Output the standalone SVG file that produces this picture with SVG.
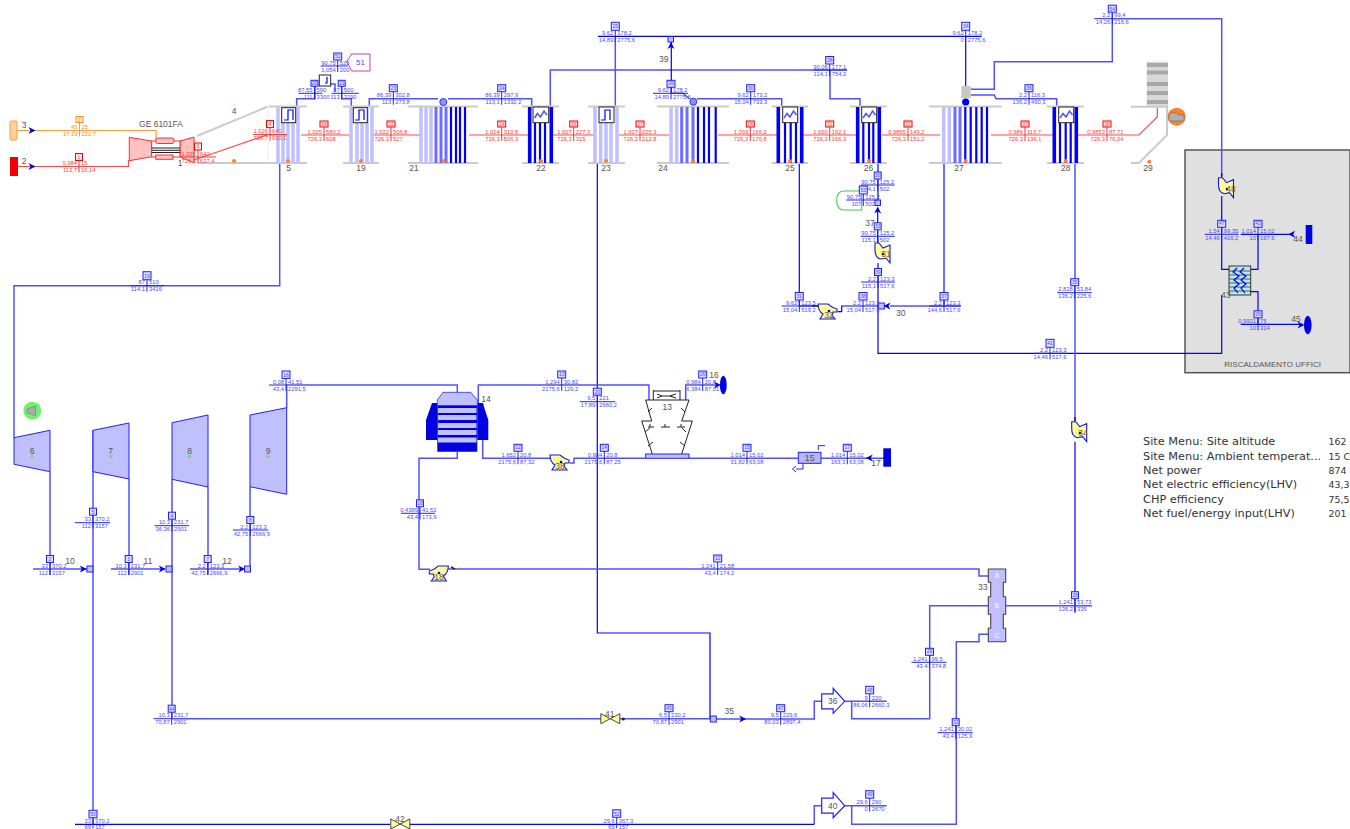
<svg xmlns="http://www.w3.org/2000/svg" width="1350" height="829" viewBox="0 0 1350 829">
<style>
text{font-family:"Liberation Sans",Arial,sans-serif}
.lb{font-size:8.5px;fill:#555;text-anchor:middle}
.p{fill:none;stroke:#5050ff;stroke-width:1.5}
.b{fill:none;stroke:#0000ff;stroke-width:1.2}
.rd{fill:none;stroke:#ff4848;stroke-width:1.2}
.o{fill:none;stroke:#ff9c3c;stroke-width:1.2}
.g{fill:none;stroke:#cbcbcb;stroke-width:2}
.s1{fill:none;stroke:#c0c0ff;stroke-width:3.5}
.s2{fill:none;stroke:#6c6cff;stroke-width:3}
.s3{fill:none;stroke:#0000ff;stroke-width:2.2}
.s4{fill:none;stroke:#0000ff;stroke-width:3.6}
.hb{fill:#fff;stroke:#222;stroke-width:1}
.dot{fill:#ff8030}
.gd{fill:#60e060}
.tb{fill:#c0c0ff;stroke:#2020ff;stroke-width:1}
.pm{fill:#ffff90;stroke:#1010ff;stroke-width:1.1}
.vl{fill:#ffff90;stroke:#333;stroke-width:.9}
.ar{fill:#0000e0}
.bk{fill:none;stroke:#222;stroke-width:1}
.t rect{fill:#dcdcff;stroke:#2020ff;stroke-width:1}
.t path{fill:none;stroke:#2020ff;stroke-width:1}
.t text{font-size:5.8px;fill:#4a4aff}
.r rect{fill:#ffe8e8;stroke:#f00000}
.r path{stroke:#ff3030}
.r text{fill:#ff4040}
.y rect{fill:#fff0e0;stroke:#ff9020}
.y path{stroke:#ff9c3c}
.y text{fill:#ff8c20}
.t .n{text-anchor:middle;font-size:5px}
.t .l{text-anchor:end}
.pn text{font-family:"DejaVu Sans",Verdana,sans-serif;font-size:11.3px;fill:#333}
.pn .val{font-size:9.4px}
</style>
<defs>
<path id="arr" d="M-3.5 -3.5L3.5 0L-3.5 3.5L-1.5 0z" class="ar"/>
<path id="pumpH" class="pm" d="M0 1H10L14 4L19 6V9H15L14 12L17 16H2L5 11Q0 8 0 1z"/>
<path id="pumpV" class="pm" d="M0 0H4L8 5L15 2V20L11 15L6 16Q0 15 0 7z"/>
<path id="exp" fill="#fff" stroke="#2020ff" stroke-width="1.2" d="M0 -7.5H11.5V-13L23 0L11.5 12V7.5H0z"/>
<path id="bow" class="vl" d="M-9.5 -5L9.5 5V-5L-9.5 5z"/>
</defs>

<rect id="room" x="1185" y="150" width="165" height="222.7" fill="#e0e0e0" stroke="#555" stroke-width="1.5"/>
<text x="1272.7" y="367" class="lb" style="font-size:8px">RISCALDAMENTO UFFICI</text>

<g id="connectors">
<path class="o" d="M17 130.5H156V139"/>
<path class="rd" d="M18 166.5H128.5V160"/>
<path class="rd" d="M194 160L268 134.6H287"/>
<path class="rd" d="M301 135H349M373 135H420M469 135H528M553 135H594M619 135H669M718 135H778M802 135H857M882 135H940M991 135H1053M1078 135H1139L1157.3 117V107"/>
<path class="p" d="M296.7 106V98.7H315V86M351.3 106V98.7H341.7V86M330 84H335V92"/>
<path class="p" d="M369.3 106V98.7H438M448 98.7H531.7V106.7"/>
<path class="p" d="M550.3 106V70H847"/>
<path class="p" d="M830 70V98.7H860V106"/>
<path class="p" d="M615.3 106V36"/>
<path class="b" d="M598 36.3H981.7"/>
<path class="b" d="M965.7 36V86M671.3 39V93.3"/>
<path class="p" d="M671.3 93.3H683L689.5 99M697 98.7H781.7V106.7"/>
<path class="p" d="M970.7 89.3H994.3V61.7H1112.3V13M1112.3 18.7H1221.7V176"/>
<path class="p" d="M970.7 95H994.3L996 98.7H1056.7V106.7"/>
<path class="b" d="M878 163V203M877.7 210V243"/>
<path d="M861.7 191H844Q836.7 191 836.7 200.5Q836.7 210 844 210H861.7V191" fill="none" stroke="#40d040" stroke-width="1.1"/>
<path class="b" d="M878 263V353.3H1221.7V295"/>
<path class="b" d="M799.3 163V306H818M838 311.7H841.7V306H881"/>
<path class="p" d="M890 306H960.7"/>
<path d="M944 163V306" fill="none" stroke="#6c6cff" stroke-width="2"/>
<path class="p" d="M1075 163V292M1075 292V421.7"/>
<path class="b" d="M1075 441.7V612.7"/>
<path class="p" d="M279.7 163V285.7H14V437.7"/>
<path class="p" d="M50 471.7V575M129 479V575M208 487V575"/>
<path class="p" d="M33 569H87M111 569H165M190 569H243"/>
<path class="p" d="M93 430V824.3M172 479V718.7M250 487V569"/>
<path class="p" d="M286.7 408V385H457.3V392"/>
<path class="b" d="M597.3 163V633H710V719"/>
<path class="p" d="M478.3 403V385H649V400"/>
<path class="p" d="M457.3 452V458.3H419V569.3H430M448 569H979V576H988.3"/>
<path class="p" d="M482.7 403V458.3H550M570 463H574V458.3H645.7"/>
<path class="p" d="M685.7 400V385H716.7"/>
<path class="p" d="M689 458.3H798.3M821 458.3H885"/>
<path class="p" d="M172 718.7H600.7M620 718.7H710"/>
<path class="p" d="M710 719H814.3V701.3H821.7"/>
<path class="p" d="M844 701.3H886.7M851.7 701.3V718.7H929.7V605.7H988.3M1005.7 605.7H1092"/>
<path class="p" d="M814.3 824.3V805.7H821.7M844 805.7H886.7M851.7 805.7V824.3H956.3V641.7H979V634.3H988.3"/>
<path class="b" d="M75 824.3H390M410 824.3H814.3"/>
<path class="b" d="M1221.7 196V269.3H1229"/>
<path class="b" d="M1258 234.3V269.3H1250.7M1250.7 291.7H1258V324"/>
<path class="b" d="M1240.7 234.3H1293M1240.7 324.3H1303"/>
<path d="M825 445.7H818.3V450M803 463.3V469H796" fill="none" stroke="#2020ff" stroke-width="1"/>
</g>

<g id="n3"><rect x="10" y="121" width="7" height="19" rx="1" fill="#ffd0a0" stroke="#ff9c3c"/><text class="lb" x="24" y="128">3</text><use href="#arr" transform="translate(32,130.5)" style="fill:#ff8020"/></g>
<g id="n2"><rect x="10" y="157" width="8" height="19" fill="#f00000"/><text class="lb" x="24" y="164">2</text><use href="#arr" transform="translate(32,166.5)"/></g>
<g id="n1">
<path d="M129.3 137.3L151.7 141V156.7L129.3 160.7z" fill="#ffc0c0" stroke="#ff3030"/>
<path d="M180 141L194 137V162.7L180 157z" fill="#ffc0c0" stroke="#ff3030"/>
<rect x="151.7" y="141" width="28.3" height="16" fill="#fff" stroke="#ff3030"/>
<path d="M151.7 148H180M151.7 150.3H180M151.7 152.5H180" stroke="#222" fill="none"/>
<rect x="155.7" y="138" width="18.3" height="5.5" rx="2" fill="#ffc0c0" stroke="#ff3030"/>
<rect x="155.7" y="155" width="17.3" height="4.3" fill="#ffc0c0" stroke="#ff3030"/>
<text class="lb" x="161" y="127">GE 6101FA</text>
<text class="lb" x="180" y="166">1</text>
</g>
<g id="n4">
<path class="g" d="M197 136L268 106.5M197 163H269"/>
<path d="M268 106.5V163" stroke="#eee" fill="none"/>
<circle class="dot" cx="234" cy="161" r="2"/><text class="lb" x="234" y="114">4</text>
</g>
<g id="n5"><path class="g" d="M269 106.5H307M269 163H307"/><path class="s1" d="M278 107V163M283 107V163M288 107V163M293 107V163M298 107V163"/><rect class="hb" x="281.7" y="107.7" width="14" height="15"/><path class="b" d="M284 120H288V110H293V120"/><circle class="dot" cx="288" cy="161" r="2"/><text class="lb" x="288.5" y="170.5">5</text></g>
<g id="n19"><path class="g" d="M343 106.5H379M343 163H379"/><path class="s1" d="M351 107V163M357 107V163M362 107V163M367 107V163M372 107V163"/><rect class="hb" x="353.3" y="107.7" width="14" height="15"/><path class="b" d="M355 120H359V110H364V120"/><circle class="dot" cx="361" cy="161" r="2"/><text class="lb" x="361" y="170.5">19</text></g>
<g id="n21"><path class="g" d="M408 106.5H478M408 163H478"/><path class="s1" d="M421 107V163M426 107V163M431 107V163"/><path class="s2" d="M436 107V163M441 107V163M446 107V163"/><path class="s3" d="M451 107V163M456 107V163M460 107V163M465 107V163"/><circle cx="443.3" cy="102" r="3.5" fill="#9090ff" stroke="#3030ff"/><circle class="dot" cx="444" cy="161" r="2"/><text class="lb" x="414" y="170.5">21</text></g>
<g id="n22"><path class="g" d="M522 106.5H559M522 163H559"/><path class="s4" d="M529.7 107V163M551.3 107V163"/><path class="s3" d="M535 107V163M540 107V163M545 107V163"/><rect class="hb" x="533" y="107" width="15.7" height="15.7"/><path class="p" d="M534.5 118L537.5 113.5L540.5 117L544 111L547 115"/><circle class="dot" cx="541" cy="161" r="2"/><text class="lb" x="541" y="170.5">22</text></g>
<g id="n23"><path class="g" d="M588 106.5H625M588 163H625"/><path class="s1" d="M595 107V163M600.7 107V163M606 107V163M611 107V163M617 107V163"/><rect class="hb" x="599" y="107" width="15" height="15.7"/><path class="b" d="M601 120H605V110H610V120"/><circle class="dot" cx="606" cy="161" r="2"/><text class="lb" x="606" y="170.5">23</text></g>
<g id="n24"><path class="g" d="M657 106.5H729M657 163H729"/><path class="s1" d="M671 107V163M676.7 107V163"/><path class="s2" d="M681.7 107V163M687 107V163M693 107V163"/><path class="s3" d="M698 107V163M704 107V163M709 107V163M715.7 107V163"/><circle cx="693.3" cy="101.7" r="3.5" fill="#9090ff" stroke="#3030ff"/><circle class="dot" cx="693" cy="161" r="2"/><text class="lb" x="663" y="170.5">24</text></g>
<g id="n25"><path class="g" d="M771.7 106.5H808M771.7 163H808"/><path class="s4" d="M778.3 107V163M801.7 107V163"/><path class="s3" d="M785 107V163M790.7 107V163M796 107V163"/><rect class="hb" x="782.7" y="107" width="15" height="15.7"/><path class="p" d="M784 118L787 113.5L790 117L793.5 111L796.5 115"/><circle class="dot" cx="790" cy="161" r="2"/><text class="lb" x="790" y="170.5">25</text></g>
<g id="n26"><path class="g" d="M850 106.5H886.7M850 163H886.7"/><path class="s4" d="M857.7 107V163M879.3 107V163"/><path class="s3" d="M863.3 107V163M869 107V163M873.3 107V163"/><rect class="hb" x="861.7" y="107" width="15" height="15.7"/><path class="p" d="M863 118L866 113.5L869 117L872.5 111L875.5 115"/><circle class="dot" cx="869" cy="161" r="2"/><text class="lb" x="868.5" y="170.5">26</text></g>
<g id="n27"><path class="g" d="M929 106.5H1001.7M929 163H1001.7"/><path class="s1" d="M943.7 107V163M949.3 107V163"/><path class="s2" d="M955 107V163M960 107V163"/><path class="s3" d="M965.3 107V163M970.7 107V163M976.3 107V163M981.7 107V163M987 107V163"/><rect x="961.3" y="86" width="9.4" height="12.3" fill="#c8c8c8"/><circle cx="965.7" cy="102" r="3.6" fill="#0000e0"/><circle class="dot" cx="965.7" cy="161" r="2"/><text class="lb" x="959" y="170.5">27</text></g>
<g id="n28"><path class="g" d="M1047 106.5H1084M1047 163H1084"/><path class="s4" d="M1054.3 107V163M1076.3 107V163"/><path class="s3" d="M1060 107V163M1065.7 107V163M1070.7 107V163"/><rect class="hb" x="1058.7" y="107" width="15" height="15.7"/><path class="p" d="M1060 118L1063 113.5L1066 117L1069.5 111L1072.5 115"/><circle class="dot" cx="1065.7" cy="161" r="2"/><text class="lb" x="1065.7" y="170.5">28</text></g>
<g id="n29"><rect x="1146.7" y="61.7" width="21.3" height="45" fill="#d8d8d8"/><path d="M1147 65H1168M1147 72.5H1168M1147 84H1168M1147 93H1168M1147 102H1168" stroke="#a8a8a8" stroke-width="4" fill="none"/><path class="g" d="M1131 106.7H1168M1131 163H1139L1167 135V106"/><circle cx="1176.7" cy="116.7" r="9" fill="#ff8030"/><path d="M1169 113H1176L1179 115H1184V121H1169z" fill="#b0b0b0" stroke="#666" stroke-width=".6"/><circle class="dot" cx="1149.3" cy="161.7" r="2"/><text class="lb" x="1148" y="170.5">29</text></g>

<g id="n6"><path class="tb" d="M14 437.7L50 430.3V471.7L14 464.3z"/><text class="lb" x="32" y="454">6</text><circle class="gd" cx="32" cy="456.5" r="1.5"/><circle cx="32.3" cy="410.7" r="9" fill="#70f070"/><path d="M27 409L35.5 406V415.5L27 413z" fill="#aaa" stroke="#777" stroke-width=".6"/></g>
<g id="n7"><path class="tb" d="M93 430.3L129 423V479L93 471.7z"/><text class="lb" x="110.5" y="454">7</text><circle class="gd" cx="111" cy="456.5" r="1.5"/></g>
<g id="n8"><path class="tb" d="M172 422.7L208 415V487L172 479.3z"/><text class="lb" x="189.5" y="454">8</text><circle class="gd" cx="189.5" cy="456.5" r="1.5"/></g>
<g id="n9"><path class="tb" d="M250 415L286.7 407.7V494.3L250 486.7z"/><text class="lb" x="268" y="454">9</text><circle class="gd" cx="268" cy="456.5" r="1.5"/></g>
<g id="n10"><use href="#arr" transform="translate(83.3,569)"/><rect x="87" y="566" width="6" height="6" class="tb"/><text class="lb" x="70" y="564">10</text></g>
<g id="n11"><use href="#arr" transform="translate(162.3,569)"/><rect x="166" y="566" width="6" height="6" class="tb"/><text class="lb" x="148" y="564" style="fill:#a04020">11</text></g>
<g id="n12"><use href="#arr" transform="translate(241.7,569)"/><rect x="244.5" y="566" width="6" height="6" class="tb"/><text class="lb" x="227" y="564">12</text></g>

<g id="n14">
<path d="M437.3 403H432L426 420V440H437.3zM477.3 403H482.7L488.3 420V440H477.3z" fill="#0000e0"/>
<path d="M443 392.3H470.7L477.3 400V451.7H437.3V400z" fill="#0000e0"/>
<path d="M443 392.3H470.7L477.3 400V405.5H437.3V400z" fill="#c0c0ff" stroke="#2020ff" stroke-width=".6"/>
<path d="M438 410.5H476.5M438 417.5H476.5M438 425.5H476.5M438 432.5H476.5M438 440H476.5" stroke="#c0c0ff" stroke-width="5" fill="none"/>
<text class="lb" x="486" y="402">14</text>
</g>
<g id="n13">
<path class="bk" d="M645.7 400H689L681.7 421H692.3L681.7 454M645.7 400L651.7 421H641.7L652.3 454"/>
<path class="bk" d="M653.3 390V400M680 390V400M653.3 391H680M657 394L662 396L670 396L676 394M657 398L662 396M676 398L670 396M648 412L652 408M685 412L681 408M645 432L650 428M686 432L682 428M648 446L653 442M685 446L680 442"/>
<path class="bk" d="M648 427H654M650 424V427M661 427H670M665 424V427M677 427H685M681 424V427" stroke="#2020ff"/>
<rect x="645.7" y="454" width="43.3" height="4.3" fill="#c0c0ff" stroke="#2020ff"/>
<text class="lb" x="667.3" y="409.5">13</text>
</g>
<g id="n15"><rect x="798.3" y="452.3" width="22.7" height="11" fill="#b8b8f0" stroke="#2020ff"/><text class="lb" x="809.7" y="461" style="font-size:9px">15</text><path d="M796 466L792.5 469L796 472" fill="none" stroke="#2020ff"/></g>
<g id="n16"><ellipse cx="723.3" cy="385" rx="3.4" ry="9.2" fill="#0000e0"/><use href="#arr" transform="translate(717.5,385)"/><text class="lb" x="714" y="377.5" style="fill:#7a5030">16</text></g>
<g id="n17"><rect x="883.3" y="448.3" width="7.7" height="18.4" fill="#0000e0"/><use href="#arr" transform="translate(869.3,458) rotate(180)"/><text class="lb" x="876" y="466">17</text></g>
<g id="n18"><use href="#pumpH" transform="translate(448.3,565) scale(-1,1)"/><circle cx="439" cy="573" r="1.3" fill="#0000e0"/><path d="M451 567L455 569" stroke="#222" stroke-width="1.5"/><text class="lb" x="439" y="580">18</text></g>
<g id="n38"><use href="#pumpH" transform="translate(550,454)"/><circle cx="561" cy="462" r="1.3" fill="#0000e0"/><text class="lb" x="560" y="469">38</text></g>
<g id="n32"><use href="#pumpH" transform="translate(818,303)"/><circle cx="829" cy="311" r="1.3" fill="#0000e0"/><path d="M812 306H818" stroke="#222" stroke-width="1.5"/><text class="lb" x="829" y="318">32</text></g>
<g id="n31"><use href="#pumpV" transform="translate(875,243)"/><circle cx="883" cy="254" r="1.3" fill="#0000e0"/><path d="M877.7 238V242" stroke="#222" stroke-width="1.5"/><text class="lb" x="886" y="257" style="fill:#806020">31</text></g>
<g id="n34"><use href="#pumpV" transform="translate(1071.7,421.7)"/><circle cx="1080" cy="433" r="1.3" fill="#0000e0"/><path d="M1075 417V421" stroke="#222" stroke-width="1.5"/><text class="lb" x="1083" y="436" style="fill:#806020">34</text></g>
<g id="n48"><use href="#pumpV" transform="translate(1218.5,177.7)"/><circle cx="1227" cy="189" r="1.3" fill="#0000e0"/><path d="M1221.7 173V177" stroke="#222" stroke-width="1.5"/><text class="lb" x="1231" y="192" style="fill:#806020">48</text></g>
<g id="n37"><rect x="875" y="200" width="5.5" height="5.5" class="tb"/><use href="#arr" transform="translate(877.7,210) rotate(-90)"/><text class="lb" x="870" y="225.5">37</text></g>
<g id="n30"><rect x="878.3" y="303" width="6" height="6" class="tb"/><use href="#arr" transform="translate(887,306) rotate(180)"/><text class="lb" x="900.7" y="316">30</text></g>
<g id="n39"><rect x="668" y="36.5" width="5.5" height="5.5" class="tb"/><use href="#arr" transform="translate(671,45.5) rotate(-90)"/><text class="lb" x="663.7" y="61.5">39</text></g>
<g id="n51"><path d="M346.7 61.7L351.7 54H370V71H351.7z" fill="#fff" stroke="#c040c0"/><text x="356" y="65" style="font-size:8px;fill:#4a4aff">51</text></g>
<g id="n50"><rect class="hb" x="319.3" y="75" width="11.4" height="11"/><path class="b" d="M325 83H327V77"/></g>
<g id="n33">
<path d="M988.3 569H1005.7V582.3H1003.3V596.7H1005.7V614.3H1003.3V628.3H1005.7V641.7H988.3V628.3H990.7V614.3H988.3V596.7H990.7V582.3H988.3z" fill="#c0c0ff" stroke="#444" stroke-width="1.1"/>
<text x="997" y="578" style="font-size:6.5px;fill:#fff;text-anchor:middle">A</text>
<text x="997" y="608" style="font-size:6.5px;fill:#fff;text-anchor:middle">B</text>
<text x="997" y="637.5" style="font-size:6.5px;fill:#fff;text-anchor:middle">C</text>
<text class="lb" x="982.7" y="590">33</text>
</g>
<g id="n35"><rect x="710.3" y="716" width="6" height="6" class="tb"/><use href="#arr" transform="translate(742.7,719)"/><text class="lb" x="729.3" y="714">35</text></g>
<g id="n36"><use href="#exp" transform="translate(821.7,701.3)"/><text class="lb" x="832.7" y="704">36</text></g>
<g id="n40"><use href="#exp" transform="translate(821.7,805.7)"/><text class="lb" x="832.7" y="809">40</text></g>
<g id="n41"><use href="#bow" transform="translate(610.3,718.7)"/><circle cx="623.3" cy="719" r="1.5" fill="#222"/><text class="lb" x="609.7" y="717">41</text></g>
<g id="n42"><use href="#bow" transform="translate(400.3,824)"/><text class="lb" x="400" y="822">42</text></g>
<g id="n43">
<rect x="1229" y="266" width="21.7" height="29" fill="#b8e8e8" stroke="#333" stroke-width="1"/>
<path d="M1229 271H1250.7M1229 275H1250.7M1229 279H1250.7M1229 283H1250.7M1229 287H1250.7M1229 291H1250.7" stroke="#222" stroke-width=".7" fill="none"/>
<path class="b" d="M1237 268L1233 272L1239 276L1234 280L1239 284L1234 288L1238 293M1244 268L1240 272L1246 276L1241 280L1246 284L1241 288L1245 293"/>
<text class="lb" x="1225.7" y="298">43</text>
</g>
<g id="n44"><rect x="1305.7" y="225" width="6.6" height="19" fill="#0000e0"/><use href="#arr" transform="translate(1291.7,234.3) rotate(180)"/><text class="lb" x="1298" y="242">44</text></g>
<g id="n45"><ellipse cx="1307.8" cy="325" rx="3.8" ry="9.2" fill="#0000e0"/><use href="#arr" transform="translate(1301,325)"/><text class="lb" x="1296" y="322">45</text></g>

<g id="tags">
<g class="t y" transform="translate(79.5,130.5)"><rect x="-3.5" y="-14" width="7" height="6"/><path d="M0 -8V6"/><text class="n" y="-9">2</text><text class="l" x="-2" y="-1.5">45</text><text x="2" y="-1.5">25</text><text class="l" x="-2" y="5.5">17,19</text><text x="2" y="5.5">222,7</text></g>
<g class="t r" transform="translate(79,166.5)"><rect x="-3.5" y="-13" width="7" height="7"/><path d="M0 -6V6"/><text class="n" y="-8">1</text><text class="l" x="-2" y="-1.5">0,984</text><text x="2" y="-1.5">15</text><text class="l" x="-2" y="5.5">113,7</text><text x="2" y="5.5">16,14</text></g>
<g class="t r" transform="translate(198,157)"><rect x="-3.5" y="-14" width="7" height="7"/><path d="M-18 0H18M0 -7V6"/><text class="n" y="-9">3</text><text class="l" x="-2" y="-1.5">1,026</text><text x="2" y="-1.5">640</text><text class="l" x="-2" y="5.5">726,3</text><text x="2" y="5.5">637,4</text></g>
<g class="t r" transform="translate(270,134.6)"><rect x="-3.5" y="-14" width="7" height="7"/><path d="M-17 0H17M0 -7V6"/><text class="n" y="-9">4</text><text class="l" x="-2" y="-1.5">1,026</text><text x="2" y="-1.5">640</text><text class="l" x="-2" y="5.5">726,7</text><text x="2" y="5.5">630,1</text></g>
<g class="t r" transform="translate(324,135)"><rect x="-4" y="-14" width="8" height="6"/><path d="M0 -8V6"/><text class="n" y="-9">18</text><text class="l" x="-2" y="-1.5">1,025</text><text x="2" y="-1.5">580,2</text><text class="l" x="-2" y="5.5">726,3</text><text x="2" y="5.5">608</text></g>
<g class="t r" transform="translate(391,135)"><rect x="-4" y="-14" width="8" height="6"/><path d="M0 -8V6"/><text class="n" y="-9">22</text><text class="l" x="-2" y="-1.5">1,022</text><text x="2" y="-1.5">506,8</text><text class="l" x="-2" y="5.5">726,3</text><text x="2" y="5.5">527</text></g>
<g class="t r" transform="translate(501.7,135)"><rect x="-4" y="-14" width="8" height="6"/><path d="M0 -8V6"/><text class="n" y="-9">24</text><text class="l" x="-2" y="-1.5">1,014</text><text x="2" y="-1.5">310,8</text><text class="l" x="-2" y="5.5">726,3</text><text x="2" y="5.5">506,3</text></g>
<g class="t r" transform="translate(573.7,135)"><rect x="-4" y="-14" width="8" height="6"/><path d="M0 -8V6"/><text class="n" y="-9">26</text><text class="l" x="-2" y="-1.5">1,007</text><text x="2" y="-1.5">227,3</text><text class="l" x="-2" y="5.5">726,3</text><text x="2" y="5.5">315</text></g>
<g class="t r" transform="translate(640,135)"><rect x="-4" y="-14" width="8" height="6"/><path d="M0 -8V6"/><text class="n" y="-9">27</text><text class="l" x="-2" y="-1.5">1,007</text><text x="2" y="-1.5">225,3</text><text class="l" x="-2" y="5.5">726,3</text><text x="2" y="5.5">212,8</text></g>
<g class="t r" transform="translate(750.3,135)"><rect x="-4" y="-14" width="8" height="6"/><path d="M0 -8V6"/><text class="n" y="-9">28</text><text class="l" x="-2" y="-1.5">1,003</text><text x="2" y="-1.5">166,2</text><text class="l" x="-2" y="5.5">726,3</text><text x="2" y="5.5">170,8</text></g>
<g class="t r" transform="translate(829.7,135)"><rect x="-4" y="-14" width="8" height="6"/><path d="M0 -8V6"/><text class="n" y="-9">31</text><text class="l" x="-2" y="-1.5">1,000</text><text x="2" y="-1.5">162,1</text><text class="l" x="-2" y="5.5">726,3</text><text x="2" y="5.5">166,3</text></g>
<g class="t r" transform="translate(908,135)"><rect x="-4" y="-14" width="8" height="6"/><path d="M0 -8V6"/><text class="n" y="-9">32</text><text class="l" x="-2" y="-1.5">0,9865</text><text x="2" y="-1.5">149,2</text><text class="l" x="-2" y="5.5">726,3</text><text x="2" y="5.5">151,2</text></g>
<g class="t r" transform="translate(1025,135)"><rect x="-4" y="-14" width="8" height="6"/><path d="M0 -8V6"/><text class="n" y="-9">37</text><text class="l" x="-2" y="-1.5">0,986</text><text x="2" y="-1.5">113,7</text><text class="l" x="-2" y="5.5">726,3</text><text x="2" y="5.5">136,1</text></g>
<g class="t r" transform="translate(1107,135)"><rect x="-4" y="-14" width="8" height="6"/><path d="M0 -8V6"/><text class="n" y="-9">38</text><text class="l" x="-2" y="-1.5">0,9853</text><text x="2" y="-1.5">87,71</text><text class="l" x="-2" y="5.5">726,3</text><text x="2" y="5.5">76,04</text></g>

<g class="t" transform="translate(337.7,66)"><rect x="-4" y="-13" width="8" height="7"/><path d="M-17 0H10M0 -6V6"/><text class="n" y="-8">51</text><text class="l" x="-2" y="-1.5">90,75</text><text x="2" y="-1.5">525</text><text class="l" x="-2" y="5.5">1,054</text><text x="2" y="5.5">200</text></g>
<g class="t" transform="translate(314.5,93.3)"><rect x="-3.5" y="-13" width="7" height="6"/><path d="M-16 0H8M0 -7V6"/><text class="n" y="-8">20</text><text class="l" x="-2" y="-1.5">87,55</text><text x="2" y="-1.5">590</text><text class="l" x="-2" y="5.5">111</text><text x="2" y="5.5">3300</text></g>
<g class="t" transform="translate(341.7,93.3)"><rect x="-3.5" y="-13" width="7" height="6"/><path d="M-10 0H17M0 -7V6"/><text class="n" y="-8">21</text><text class="l" x="-2" y="-1.5">87</text><text x="2" y="-1.5">500</text><text class="l" x="-2" y="5.5">113</text><text x="2" y="5.5">3290</text></g>
<g class="t" transform="translate(393.3,98.7)"><rect x="-4" y="-14" width="8" height="7"/><path d="M0 -7V6"/><text class="n" y="-9">23</text><text class="l" x="-2" y="-1.5">86,39</text><text x="2" y="-1.5">302,8</text><text class="l" x="-2" y="5.5">113</text><text x="2" y="5.5">273,8</text></g>
<g class="t" transform="translate(501.7,98.7)"><rect x="-4" y="-14" width="8" height="7"/><path d="M0 -7V6"/><text class="n" y="-9">24</text><text class="l" x="-2" y="-1.5">86,39</text><text x="2" y="-1.5">297,9</text><text class="l" x="-2" y="5.5">113,1</text><text x="2" y="5.5">1332,2</text></g>
<g class="t" transform="translate(615.3,36.3)"><rect x="-4" y="-14" width="8" height="8"/><path d="M0 -6V6"/><text class="n" y="-8">25</text><text class="l" x="-2" y="-1.5">9,62</text><text x="2" y="-1.5">178,2</text><text class="l" x="-2" y="5.5">14,89</text><text x="2" y="5.5">2775,6</text></g>
<g class="t" transform="translate(671,93.3)"><rect x="-4" y="-13" width="8" height="7"/><path d="M-18 0H17M0 -6V6"/><text class="n" y="-8">26</text><text class="l" x="-2" y="-1.5">9,62</text><text x="2" y="-1.5">178,2</text><text class="l" x="-2" y="5.5">14,89</text><text x="2" y="5.5">2775,6</text></g>
<g class="t" transform="translate(750.7,98.7)"><rect x="-4" y="-14" width="8" height="7"/><path d="M0 -7V6"/><text class="n" y="-9">30</text><text class="l" x="-2" y="-1.5">9,62</text><text x="2" y="-1.5">173,2</text><text class="l" x="-2" y="5.5">15,04</text><text x="2" y="5.5">733,3</text></g>
<g class="t" transform="translate(829.7,70)"><rect x="-4" y="-13.5" width="8" height="7.5"/><path d="M-16 0H17M0 -6V6"/><text class="n" y="-8">28</text><text class="l" x="-2" y="-1.5">90,06</text><text x="2" y="-1.5">177,1</text><text class="l" x="-2" y="5.5">114,1</text><text x="2" y="5.5">754,2</text></g>
<g class="t" transform="translate(965.7,36.3)"><rect x="-4" y="-14" width="8" height="8"/><path d="M0 -6V6"/><text class="n" y="-8">34</text><text class="l" x="-2" y="-1.5">9,62</text><text x="2" y="-1.5">178,2</text><text class="l" x="-2" y="5.5">0</text><text x="2" y="5.5">2775,6</text></g>
<g class="t" transform="translate(1112.3,18.7)"><rect x="-4" y="-13.5" width="8" height="7"/><path d="M-18 0H0M0 -6V6"/><text class="n" y="-8">54</text><text class="l" x="-2" y="-1.5">2,2</text><text x="2" y="-1.5">99,4</text><text class="l" x="-2" y="5.5">14,26</text><text x="2" y="5.5">216,6</text></g>
<g class="t" transform="translate(1029,98.7)"><rect x="-4" y="-14" width="8" height="7"/><path d="M0 -7V6"/><text class="n" y="-9">36</text><text class="l" x="-2" y="-1.5">2,2</text><text x="2" y="-1.5">116,3</text><text class="l" x="-2" y="5.5">136,2</text><text x="2" y="5.5">490,3</text></g>
<g class="t" transform="translate(877.7,185)"><rect x="-3.5" y="-13" width="7" height="7"/><path d="M-17 0H17M0 -6V6"/><text class="n" y="-8">30</text><text class="l" x="-2" y="-1.5">90,75</text><text x="2" y="-1.5">125,2</text><text class="l" x="-2" y="5.5">4,1</text><text x="2" y="5.5">502</text></g>
<g class="t" transform="translate(863.3,200)"><rect x="-4" y="-14" width="8" height="8"/><path d="M-17 0H14M0 -6V6"/><text class="n" y="-8">53</text><text class="l" x="-2" y="-1.5">90,75</text><text x="2" y="-1.5">125,2</text><text class="l" x="-2" y="5.5">107</text><text x="2" y="5.5">502</text></g>
<g class="t" transform="translate(877.7,236.3)"><rect x="-3.5" y="-13.5" width="7" height="7"/><path d="M-17 0H17M0 -6V6"/><text class="n" y="-8">33</text><text class="l" x="-2" y="-1.5">90,75</text><text x="2" y="-1.5">125,2</text><text class="l" x="-2" y="5.5">115,1</text><text x="2" y="5.5">502</text></g>
<g class="t" transform="translate(878,282)"><rect x="-3.5" y="-13.5" width="7" height="7"/><path d="M-17 0H17M0 -6V6"/><text class="n" y="-8">39</text><text class="l" x="-2" y="-1.5">2,2</text><text x="2" y="-1.5">123,3</text><text class="l" x="-2" y="5.5">115,1</text><text x="2" y="5.5">517,6</text></g>
<g class="t" transform="translate(799.3,306)"><rect x="-4" y="-13.5" width="8" height="7.5"/><path d="M-17.5 0H14M0 -6V6"/><text class="n" y="-8">31</text><text class="l" x="-2" y="-1.5">9,62</text><text x="2" y="-1.5">123,5</text><text class="l" x="-2" y="5.5">15,04</text><text x="2" y="5.5">519,2</text></g>
<g class="t" transform="translate(863,306)"><rect x="-4" y="-13.5" width="8" height="7.5"/><path d="M0 -6V6"/><text class="n" y="-8">38</text><text class="l" x="-2" y="-1.5">2,2</text><text x="2" y="-1.5">123,3</text><text class="l" x="-2" y="5.5">15,04</text><text x="2" y="5.5">517,6</text></g>
<g class="t" transform="translate(944,306)"><rect x="-4" y="-13.5" width="8" height="7.5"/><path d="M-15 0H17M0 -6V6"/><text class="n" y="-8">37</text><text class="l" x="-2" y="-1.5">2,2</text><text x="2" y="-1.5">123,3</text><text class="l" x="-2" y="5.5">144,6</text><text x="2" y="5.5">517,6</text></g>
<g class="t" transform="translate(1050,353.3)"><rect x="-4" y="-14" width="8" height="8"/><path d="M-15 0H17M0 -6V6"/><text class="n" y="-8">41</text><text class="l" x="-2" y="-1.5">2,2</text><text x="2" y="-1.5">123,3</text><text class="l" x="-2" y="5.5">14,46</text><text x="2" y="5.5">517,6</text></g>
<g class="t" transform="translate(1074.7,292.7)"><rect x="-4" y="-14" width="8" height="7"/><path d="M-17.5 0H17M0 -7V6"/><text class="n" y="-9">35</text><text class="l" x="-2" y="-1.5">2,828</text><text x="2" y="-1.5">53,84</text><text class="l" x="-2" y="5.5">136,2</text><text x="2" y="5.5">225,6</text></g>
<g class="t" transform="translate(1221.7,234.3)"><rect x="-4" y="-14" width="8" height="7"/><path d="M-17 0H17M0 -7V6"/><text class="n" y="-9">47</text><text class="l" x="-2" y="-1.5">1,54</text><text x="2" y="-1.5">99,35</text><text class="l" x="-2" y="5.5">14,46</text><text x="2" y="5.5">416,2</text></g>
<g class="t" transform="translate(1258,234.3)"><rect x="-4" y="-14" width="8" height="7"/><path d="M0 -7V6"/><text class="n" y="-9">42</text><text class="l" x="-2" y="-1.5">1,014</text><text x="2" y="-1.5">15,02</text><text class="l" x="-2" y="5.5">10</text><text x="2" y="5.5">167,6</text></g>
<g class="t" transform="translate(1258,324.3)"><rect x="-4" y="-13.5" width="8" height="7"/><path d="M0 -6V6"/><text class="n" y="-8">26</text><text class="l" x="-2" y="-1.5">0,9931</text><text x="2" y="-1.5">75</text><text class="l" x="-2" y="5.5">10</text><text x="2" y="5.5">314</text></g>

<g class="t" transform="translate(147,285.7)"><rect x="-4" y="-14" width="8" height="8"/><path d="M-17 0H17M0 -6V6"/><text class="n" y="-8">19</text><text class="l" x="-2" y="-1.5">87</text><text x="2" y="-1.5">510</text><text class="l" x="-2" y="5.5">114,1</text><text x="2" y="5.5">3416</text></g>
<g class="t" transform="translate(286,385)"><rect x="-4" y="-14" width="8" height="7.5"/><path d="M-17 0H0M0 -7V6"/><text class="n" y="-8">16</text><text class="l" x="-2" y="-1.5">0,08</text><text x="2" y="-1.5">41,51</text><text class="l" x="-2" y="5.5">43,4</text><text x="2" y="5.5">2291,5</text></g>
<g class="t" transform="translate(50,569)"><rect x="-3.5" y="-13.5" width="7" height="7"/><path d="M0 -6V6"/><text class="n" y="-8">2</text><text class="l" x="-2" y="-1.5">33</text><text x="2" y="-1.5">370,2</text><text class="l" x="-2" y="5.5">112</text><text x="2" y="5.5">3157</text></g>
<g class="t" transform="translate(93,522.7)"><rect x="-3.5" y="-14.5" width="7" height="7"/><path d="M-18 0H17M0 -7.5V6"/><text class="n" y="-9">5</text><text class="l" x="-2" y="-1.5">33</text><text x="2" y="-1.5">370,2</text><text class="l" x="-2" y="5.5">112</text><text x="2" y="5.5">3157</text></g>
<g class="t" transform="translate(128.7,569)"><rect x="-3.5" y="-13.5" width="7" height="7"/><path d="M0 -6V6"/><text class="n" y="-8">3</text><text class="l" x="-2" y="-1.5">10,3</text><text x="2" y="-1.5">231,7</text><text class="l" x="-2" y="5.5">112</text><text x="2" y="5.5">2901</text></g>
<g class="t" transform="translate(172,525.7)"><rect x="-3.5" y="-13.5" width="7" height="7"/><path d="M-17.5 0H17M0 -6V6"/><text class="n" y="-8">4</text><text class="l" x="-2" y="-1.5">10,3</text><text x="2" y="-1.5">231,7</text><text class="l" x="-2" y="5.5">36,36</text><text x="2" y="5.5">2901</text></g>
<g class="t" transform="translate(207.7,569)"><rect x="-3.5" y="-13.5" width="7" height="7"/><path d="M0 -6V6"/><text class="n" y="-8">7</text><text class="l" x="-2" y="-1.5">2,2</text><text x="2" y="-1.5">123,3</text><text class="l" x="-2" y="5.5">42,75</text><text x="2" y="5.5">2666,9</text></g>
<g class="t" transform="translate(250.3,530)"><rect x="-3.5" y="-13.5" width="7" height="7"/><path d="M-17.5 0H18M0 -6V6"/><text class="n" y="-8">8</text><text class="l" x="-2" y="-1.5">2,2</text><text x="2" y="-1.5">123,3</text><text class="l" x="-2" y="5.5">42,75</text><text x="2" y="5.5">2666,9</text></g>
<g class="t" transform="translate(561.7,385)"><rect x="-4" y="-14" width="8" height="7"/><path d="M0 -7V6"/><text class="n" y="-9">13</text><text class="l" x="-2" y="-1.5">1,294</text><text x="2" y="-1.5">30,82</text><text class="l" x="-2" y="5.5">2175,6</text><text x="2" y="5.5">129,2</text></g>
<g class="t" transform="translate(597.3,401.7)"><rect x="-4" y="-13.5" width="8" height="7"/><path d="M-17.5 0H18M0 -6V6"/><text class="n" y="-8">20</text><text class="l" x="-2" y="-1.5">9,5</text><text x="2" y="-1.5">221</text><text class="l" x="-2" y="5.5">17,89</text><text x="2" y="5.5">2660,2</text></g>
<g class="t" transform="translate(702.7,385)"><rect x="-4" y="-14" width="8" height="7"/><path d="M0 -7V6"/><text class="n" y="-9">26</text><text class="l" x="-2" y="-1.5">0,984</text><text x="2" y="-1.5">20,8</text><text class="l" x="-2" y="5.5">6,384</text><text x="2" y="5.5">87,01</text></g>
<g class="t" transform="translate(518,458.3)"><rect x="-4" y="-14" width="8" height="7"/><path d="M0 -7V6"/><text class="n" y="-9">12</text><text class="l" x="-2" y="-1.5">1,652</text><text x="2" y="-1.5">20,8</text><text class="l" x="-2" y="5.5">2175,6</text><text x="2" y="5.5">87,32</text></g>
<g class="t" transform="translate(604.3,458.3)"><rect x="-4" y="-14" width="8" height="7"/><path d="M0 -7V6"/><text class="n" y="-9">14</text><text class="l" x="-2" y="-1.5">0,984</text><text x="2" y="-1.5">20,8</text><text class="l" x="-2" y="5.5">2175,6</text><text x="2" y="5.5">87,25</text></g>
<g class="t" transform="translate(747,458.3)"><rect x="-4" y="-14" width="8" height="7"/><path d="M0 -7V6"/><text class="n" y="-9">15</text><text class="l" x="-2" y="-1.5">1,014</text><text x="2" y="-1.5">15,02</text><text class="l" x="-2" y="5.5">31,82</text><text x="2" y="5.5">63,08</text></g>
<g class="t" transform="translate(847.3,458.3)"><rect x="-4" y="-14" width="8" height="7"/><path d="M0 -7V6"/><text class="n" y="-9">17</text><text class="l" x="-2" y="-1.5">1,014</text><text x="2" y="-1.5">15,02</text><text class="l" x="-2" y="5.5">163,3</text><text x="2" y="5.5">63,08</text></g>
<g class="t" transform="translate(420,513.3)"><rect x="-3.5" y="-13.5" width="7" height="7"/><path d="M-19 0H15M0 -6V6"/><text class="n" y="-8">18</text><text class="l" x="-2" y="-1.5">0,4389</text><text x="2" y="-1.5">41,52</text><text class="l" x="-2" y="5.5">43,4</text><text x="2" y="5.5">173,9</text></g>
<g class="t" transform="translate(717.7,569)"><rect x="-4" y="-14" width="8" height="7"/><path d="M0 -7V6"/><text class="n" y="-9">12</text><text class="l" x="-2" y="-1.5">1,241</text><text x="2" y="-1.5">21,58</text><text class="l" x="-2" y="5.5">43,4</text><text x="2" y="5.5">174,2</text></g>
<g class="t" transform="translate(1075,605.7)"><rect x="-3.5" y="-14" width="7" height="7"/><path d="M0 -7V6"/><text class="n" y="-9">28</text><text class="l" x="-2" y="-1.5">1,241</text><text x="2" y="-1.5">53,73</text><text class="l" x="-2" y="5.5">136,2</text><text x="2" y="5.5">335</text></g>
<g class="t" transform="translate(929.5,662.3)"><rect x="-4" y="-14" width="8" height="7"/><path d="M-18 0H17M0 -7V6"/><text class="n" y="-9">29</text><text class="l" x="-2" y="-1.5">1,241</text><text x="2" y="-1.5">99,5</text><text class="l" x="-2" y="5.5">43,4</text><text x="2" y="5.5">374,8</text></g>
<g class="t" transform="translate(955.7,732.7)"><rect x="-3.5" y="-14" width="7" height="7"/><path d="M-18 0H17M0 -7V6"/><text class="n" y="-9">32</text><text class="l" x="-2" y="-1.5">1,241</text><text x="2" y="-1.5">30,02</text><text class="l" x="-2" y="5.5">43,4</text><text x="2" y="5.5">125,9</text></g>
<g class="t" transform="translate(869.7,701.3)"><rect x="-4" y="-15" width="8" height="7.5"/><path d="M0 -7.5V6"/><text class="n" y="-9.5">48</text><text class="l" x="-2" y="-1.5">9</text><text x="2" y="-1.5">220</text><text class="l" x="-2" y="5.5">86,06</text><text x="2" y="5.5">2660,3</text></g>
<g class="t" transform="translate(869.7,805.7)"><rect x="-4" y="-15" width="8" height="7.5"/><path d="M0 -7.5V6"/><text class="n" y="-9.5">49</text><text class="l" x="-2" y="-1.5">29,6</text><text x="2" y="-1.5">290</text><text class="l" x="-2" y="5.5">0</text><text x="2" y="5.5">2670</text></g>
<g class="t" transform="translate(669,718.7)"><rect x="-4" y="-14" width="8" height="7"/><path d="M0 -7V6"/><text class="n" y="-9">45</text><text class="l" x="-2" y="-1.5">6,5</text><text x="2" y="-1.5">230,2</text><text class="l" x="-2" y="5.5">70,87</text><text x="2" y="5.5">2901</text></g>
<g class="t" transform="translate(780.7,718.7)"><rect x="-4" y="-14" width="8" height="7"/><path d="M0 -7V6"/><text class="n" y="-9">47</text><text class="l" x="-2" y="-1.5">9,5</text><text x="2" y="-1.5">229,6</text><text class="l" x="-2" y="5.5">80,03</text><text x="2" y="5.5">2897,4</text></g>
<g class="t" transform="translate(171.7,718.7)"><rect x="-3.5" y="-13.5" width="7" height="7"/><path d="M-18 0H0M0 -6V6"/><text class="n" y="-8">44</text><text class="l" x="-2" y="-1.5">10,3</text><text x="2" y="-1.5">231,7</text><text class="l" x="-2" y="5.5">70,87</text><text x="2" y="5.5">2901</text></g>
<g class="t" transform="translate(93,824.3)"><rect x="-4" y="-14" width="8" height="7.5"/><path d="M0 -6.5V4"/><text class="n" y="-8">50</text><text class="l" x="-2" y="-1.5">33</text><text x="2" y="-1.5">370,2</text><text class="l" x="-2" y="4.5">69</text><text x="2" y="4.5">157</text></g>
<g class="t" transform="translate(616.7,824.3)"><rect x="-4" y="-14.5" width="8" height="7.5"/><path d="M0 -7V4"/><text class="n" y="-8.5">52</text><text class="l" x="-2" y="-1.5">29,6</text><text x="2" y="-1.5">367,3</text><text class="l" x="-2" y="4.5">69</text><text x="2" y="4.5">157</text></g>
</g>

<g id="results" class="pn">
<text x="1143" y="445">Site Menu: Site altitude</text><text class="val" x="1328.5" y="445">162</text>
<text x="1143" y="459.5">Site Menu: Ambient temperat...</text><text class="val" x="1328.5" y="459.5">15 C</text>
<text x="1143" y="473.9">Net power</text><text class="val" x="1328.5" y="473.9">874</text>
<text x="1143" y="488.2">Net electric efficiency(LHV)</text><text class="val" x="1328.5" y="488.2">43,3</text>
<text x="1143" y="502.6">CHP efficiency</text><text class="val" x="1328.5" y="502.6">75,5</text>
<text x="1143" y="517">Net fuel/energy input(LHV)</text><text class="val" x="1328.5" y="517">201</text>
</g>
</svg>
